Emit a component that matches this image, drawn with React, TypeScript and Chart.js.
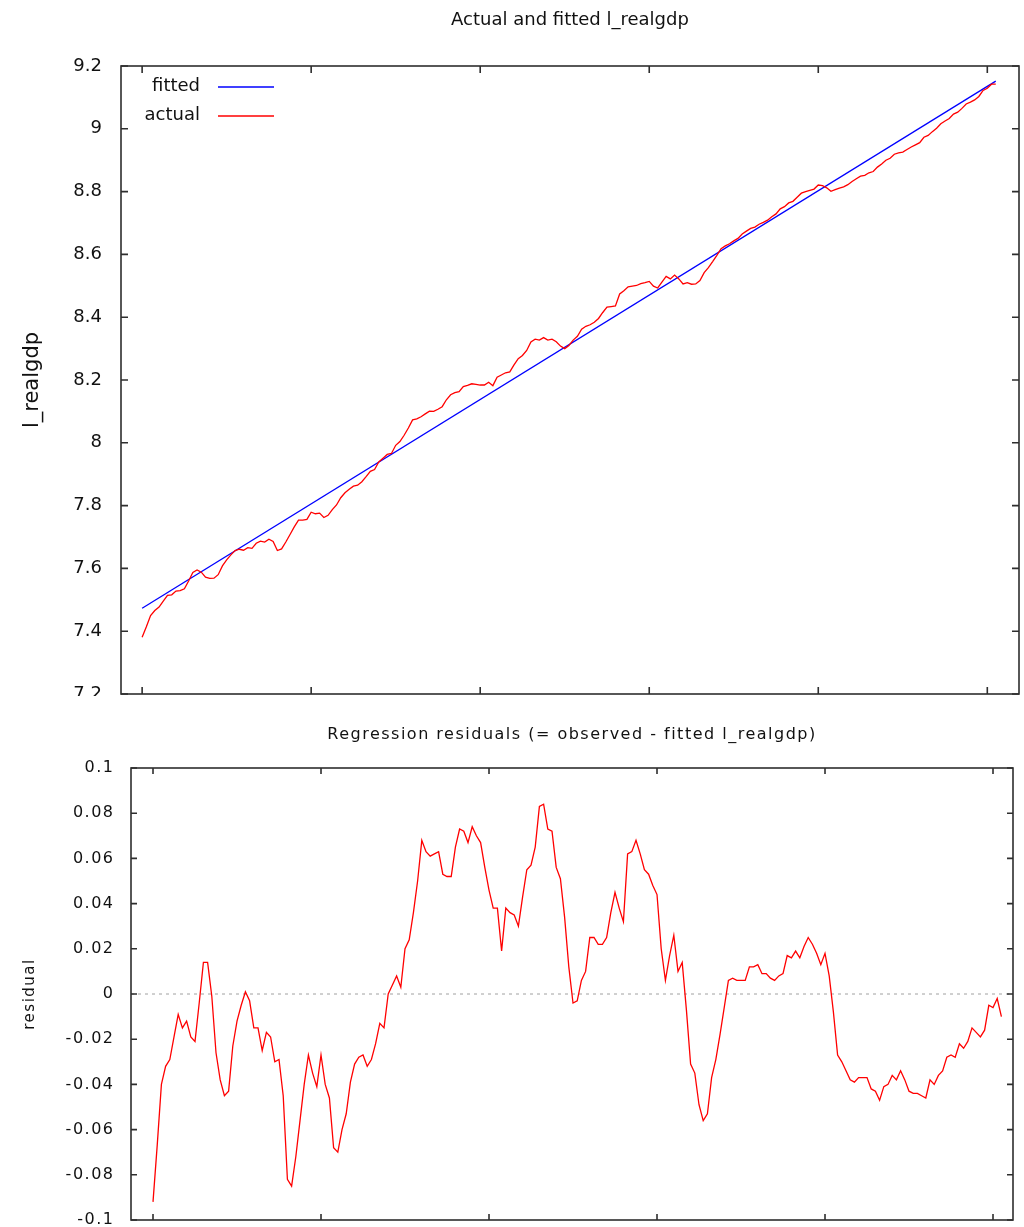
import { useEffect, useRef } from 'react';
import { Chart, registerables } from 'chart.js';

Chart.register(...registerables);

// ---------------- data ----------------
const residuals: number[] = [
  -0.092, -0.067, -0.040, -0.032, -0.029, -0.019, -0.009, -0.015, -0.012, -0.019,
  -0.021, -0.004, 0.014, 0.014, -0.001, -0.026, -0.038, -0.045, -0.043, -0.023,
  -0.012, -0.005, 0.001, -0.003, -0.015, -0.015, -0.025, -0.017, -0.019, -0.030,
  -0.029, -0.045, -0.082, -0.085, -0.072, -0.056, -0.040, -0.027, -0.035, -0.041,
  -0.027, -0.040, -0.046, -0.068, -0.070, -0.060, -0.053, -0.039, -0.031, -0.028,
  -0.027, -0.032, -0.029, -0.022, -0.013, -0.015, 0.000, 0.004, 0.008, 0.003,
  0.020, 0.024, 0.036, 0.050, 0.068, 0.063, 0.061, 0.062, 0.063, 0.053,
  0.052, 0.052, 0.065, 0.073, 0.072, 0.067, 0.074, 0.070, 0.067, 0.056,
  0.046, 0.038, 0.038, 0.019, 0.038, 0.036, 0.035, 0.030, 0.043, 0.055,
  0.057, 0.065, 0.083, 0.084, 0.073, 0.072, 0.056, 0.051, 0.034, 0.012,
  -0.004, -0.003, 0.006, 0.010, 0.025, 0.025, 0.022, 0.022, 0.025, 0.036,
  0.045, 0.038, 0.032, 0.062, 0.063, 0.068, 0.062, 0.055, 0.053, 0.048,
  0.044, 0.020, 0.006, 0.017, 0.026, 0.010, 0.014, -0.007, -0.031, -0.035,
  -0.049, -0.056, -0.053, -0.037, -0.029, -0.018, -0.006, 0.006, 0.007, 0.006,
  0.006, 0.006, 0.012, 0.012, 0.013, 0.009, 0.009, 0.007, 0.006, 0.008,
  0.009, 0.017, 0.016, 0.019, 0.016, 0.021, 0.025, 0.022, 0.018, 0.013,
  0.018, 0.008, -0.008, -0.027, -0.030, -0.034, -0.038, -0.039, -0.037, -0.037,
  -0.037, -0.042, -0.043, -0.047, -0.041, -0.040, -0.036, -0.038, -0.034, -0.038,
  -0.043, -0.044, -0.044, -0.045, -0.046, -0.038, -0.040, -0.036, -0.034, -0.028,
  -0.027, -0.028, -0.022, -0.024, -0.021, -0.015, -0.017, -0.019, -0.016, -0.005,
  -0.006, -0.002, -0.010,
];

const actual: number[] = [
  7.381, 7.414, 7.450, 7.466, 7.477, 7.496, 7.514, 7.516, 7.528, 7.529,
  7.535, 7.560, 7.587, 7.595, 7.588, 7.572, 7.568, 7.569, 7.580, 7.608,
  7.627, 7.643, 7.657, 7.661, 7.658, 7.666, 7.664, 7.680, 7.687, 7.684,
  7.693, 7.686, 7.657, 7.662, 7.684, 7.708, 7.732, 7.754, 7.754, 7.756,
  7.779, 7.774, 7.776, 7.762, 7.769, 7.787, 7.802, 7.825, 7.841, 7.852,
  7.862, 7.865, 7.876, 7.892, 7.909, 7.915, 7.939, 7.951, 7.963, 7.966,
  7.992, 8.004, 8.024, 8.047, 8.073, 8.076, 8.083, 8.092, 8.101, 8.100,
  8.107, 8.115, 8.137, 8.153, 8.160, 8.163, 8.179, 8.183, 8.188, 8.186,
  8.184, 8.184, 8.193, 8.182, 8.209, 8.216, 8.223, 8.226, 8.248, 8.268,
  8.278, 8.294, 8.321, 8.330, 8.327, 8.335, 8.327, 8.330, 8.322, 8.308,
  8.300, 8.310, 8.327, 8.339, 8.362, 8.371, 8.376, 8.384, 8.396, 8.415,
  8.432, 8.434, 8.436, 8.474, 8.484, 8.497, 8.499, 8.501, 8.507, 8.510,
  8.514, 8.499, 8.493, 8.512, 8.530, 8.522, 8.534, 8.522, 8.506, 8.510,
  8.505, 8.506, 8.517, 8.542, 8.558, 8.577, 8.597, 8.618, 8.627, 8.634,
  8.643, 8.651, 8.665, 8.674, 8.683, 8.687, 8.696, 8.702, 8.709, 8.720,
  8.729, 8.745, 8.752, 8.764, 8.769, 8.782, 8.795, 8.800, 8.804, 8.808,
  8.821, 8.819, 8.812, 8.801, 8.806, 8.811, 8.815, 8.822, 8.832, 8.841,
  8.849, 8.852, 8.860, 8.864, 8.878, 8.888, 8.900, 8.906, 8.919, 8.923,
  8.926, 8.934, 8.942, 8.949, 8.956, 8.973, 8.979, 8.991, 9.002, 9.016,
  9.025, 9.033, 9.047, 9.053, 9.065, 9.079, 9.085, 9.092, 9.103, 9.122,
  9.129, 9.142, 9.142,
];

// fitted trend: straight line, given by its two end observations
const fittedObs: number[] = [0, 202];
const fittedVals: number[] = [7.473, 9.152];

const xTickObs: number[] = [0, 40, 80, 120, 160, 200];
const levelTicks: number[] = [7.2, 7.4, 7.6, 7.8, 8, 8.2, 8.4, 8.6, 8.8, 9, 9.2];
const residTicks: number[] = [-0.1, -0.08, -0.06, -0.04, -0.02, 0, 0.02, 0.04, 0.06, 0.08, 0.1];

const legendLabels: string[] = ['fitted', 'actual'];
const FONT = "'DejaVu Sans', sans-serif";

// ---------------- plugins ----------------
function framePlugin(tickLen: number) {
  return {
    id: 'gnuFrame',
    afterDraw(chart: any) {
      const { ctx, chartArea: a, scales } = chart;
      const xs = scales.x;
      const ys = scales.y;
      ctx.save();
      ctx.strokeStyle = '#2e2e2e';
      ctx.lineWidth = 1.6;
      ctx.strokeRect(a.left, a.top, a.right - a.left, a.bottom - a.top);
      ctx.beginPath();
      for (const t of xs.ticks) {
        const px = xs.getPixelForValue(t.value);
        ctx.moveTo(px, a.bottom);
        ctx.lineTo(px, a.bottom - tickLen);
        ctx.moveTo(px, a.top);
        ctx.lineTo(px, a.top + tickLen);
      }
      for (const t of ys.ticks) {
        const py = ys.getPixelForValue(t.value);
        ctx.moveTo(a.left, py);
        ctx.lineTo(a.left + tickLen, py);
        ctx.moveTo(a.right, py);
        ctx.lineTo(a.right - tickLen, py);
      }
      ctx.stroke();
      ctx.restore();
    },
  };
}

const legendPlugin = {
  id: 'gnuLegend',
  afterDraw(chart: any) {
    const { ctx, chartArea: a } = chart;
    ctx.save();
    ctx.font = `18px ${FONT}`;
    ctx.textAlign = 'right';
    ctx.textBaseline = 'middle';
    legendLabels.forEach((lab, k) => {
      const ds = chart.data.datasets.find((d: any) => d.label === lab);
      if (!ds) return;
      const y = a.top + 21 + k * 29;
      ctx.fillStyle = '#111';
      ctx.fillText(lab, a.left + 79, y - 1);
      ctx.strokeStyle = ds.borderColor;
      ctx.lineWidth = 1.4;
      ctx.beginPath();
      ctx.moveTo(a.left + 97, y);
      ctx.lineTo(a.left + 153, y);
      ctx.stroke();
    });
    ctx.restore();
  },
};

function spacingPlugin(sp: string) {
  return {
    id: 'spacing',
    beforeUpdate(chart: any) { chart.ctx.letterSpacing = sp; },
    beforeLayout(chart: any) { chart.ctx.letterSpacing = sp; },
    beforeDraw(chart: any) { chart.ctx.letterSpacing = sp; },
  };
}

const fmt = (v: any) => String(Number(Number(v).toFixed(2)));

export default function App() {
  const topRef = useRef<HTMLCanvasElement>(null);
  const botRef = useRef<HTMLCanvasElement>(null);

  useEffect(() => {
    Chart.defaults.font.family = FONT;
    Chart.defaults.color = '#111';

    const topX = { min: -5, max: 207.5 };
    const top = new Chart(topRef.current as HTMLCanvasElement, {
      type: 'line',
      data: {
        datasets: [
          {
            label: 'actual',
            data: actual.map((v, i) => ({ x: i, y: v })),
            borderColor: '#ff0000',
            borderWidth: 1.3,
            pointRadius: 0,
            tension: 0,
            order: 1,
          },
          {
            label: 'fitted',
            data: fittedObs.map((o, i) => ({ x: o, y: fittedVals[i] })),
            borderColor: '#0000ff',
            borderWidth: 1.3,
            pointRadius: 0,
            tension: 0,
            order: 2,
          },
        ],
      },
      options: {
        responsive: false,
        animation: false,
        layout: { padding: { left: 0, right: 5, top: 0, bottom: 2 } },
        plugins: {
          legend: { display: false },
          tooltip: { enabled: false },
          title: {
            display: true,
            fullSize: false,
            text: 'Actual and fitted l_realgdp',
            font: { size: 18, weight: 'normal' },
            color: '#111',
            padding: { top: 9.5, bottom: 34.9 },
          },
        },
        scales: {
          x: {
            type: 'linear',
            min: topX.min,
            max: topX.max,
            ticks: { display: false },
            grid: { display: false, drawTicks: false },
            border: { display: false },
            afterBuildTicks: (s: any) => { s.ticks = xTickObs.map((v) => ({ value: v })); },
            afterFit: (s: any) => { s.height = 0; s.paddingLeft = 0; s.paddingRight = 0; },
          },
          y: {
            type: 'linear',
            min: 7.2,
            max: 9.2,
            afterBuildTicks: (s: any) => { s.ticks = levelTicks.map((v) => ({ value: v })); },
            ticks: { callback: fmt, font: { size: 18 }, padding: 19, autoSkip: false, color: '#111' },
            grid: { display: false, drawTicks: false },
            border: { display: false },
            title: {
              display: true,
              text: 'l_realgdp',
              font: { size: 21 },
              color: '#111',
              padding: { top: 20.4, bottom: 0 },
            },
            afterFit: (s: any) => { s.width = 121; s.paddingTop = 0; s.paddingBottom = 0; },
          },
        },
      } as any,
      plugins: [framePlugin(7), legendPlugin],
    });

    const botX = { min: -5.24, max: 204.76 };
    const bot = new Chart(botRef.current as HTMLCanvasElement, {
      type: 'line',
      data: {
        datasets: [
          {
            label: 'residual',
            data: residuals.map((v, i) => ({ x: i, y: v })),
            borderColor: '#ff0000',
            borderWidth: 1.3,
            pointRadius: 0,
            tension: 0,
            order: 1,
          },
          {
            label: 'zero',
            data: [{ x: botX.min, y: 0 }, { x: botX.max, y: 0 }],
            borderColor: '#a0a0a0',
            borderWidth: 1,
            borderDash: [3, 4],
            pointRadius: 0,
            order: 2,
          },
        ],
      },
      options: {
        responsive: false,
        animation: false,
        layout: { padding: { left: 0, right: 11, top: 0, bottom: 7 } },
        plugins: {
          legend: { display: false },
          tooltip: { enabled: false },
          title: {
            display: true,
            fullSize: false,
            text: 'Regression residuals (= observed - fitted l_realgdp)',
            font: { size: 16, weight: 'normal' },
            color: '#111',
            padding: { top: 29.4, bottom: 23.4 },
          },
        },
        scales: {
          x: {
            type: 'linear',
            min: botX.min,
            max: botX.max,
            ticks: { display: false },
            grid: { display: false, drawTicks: false },
            border: { display: false },
            afterBuildTicks: (s: any) => { s.ticks = xTickObs.map((v) => ({ value: v })); },
            afterFit: (s: any) => { s.height = 0; s.paddingLeft = 0; s.paddingRight = 0; },
          },
          y: {
            type: 'linear',
            min: -0.1,
            max: 0.1,
            afterBuildTicks: (s: any) => { s.ticks = residTicks.map((v) => ({ value: v })); },
            ticks: { callback: fmt, font: { size: 16 }, padding: 16.5, autoSkip: false, color: '#111' },
            grid: { display: false, drawTicks: false },
            border: { display: false },
            title: {
              display: true,
              text: 'residual',
              font: { size: 15 },
              color: '#111',
              padding: { top: 21, bottom: 0 },
            },
            afterFit: (s: any) => { s.width = 131; s.paddingTop = 0; s.paddingBottom = 0; },
          },
        },
      } as any,
      plugins: [spacingPlugin('1.5px'), framePlugin(6)],
    });

    return () => {
      top.destroy();
      bot.destroy();
    };
  }, []);

  return (
    <div style={{ position: 'absolute', left: 0, top: 0, width: 1024, height: 1227, background: '#ffffff' }}>
      <canvas
        ref={topRef}
        width={1024}
        height={696}
        style={{ position: 'absolute', left: 0, top: 0, width: 1024, height: 696 }}
      />
      <canvas
        ref={botRef}
        width={1024}
        height={531}
        style={{ position: 'absolute', left: 0, top: 696, width: 1024, height: 531 }}
      />
    </div>
  );
}
